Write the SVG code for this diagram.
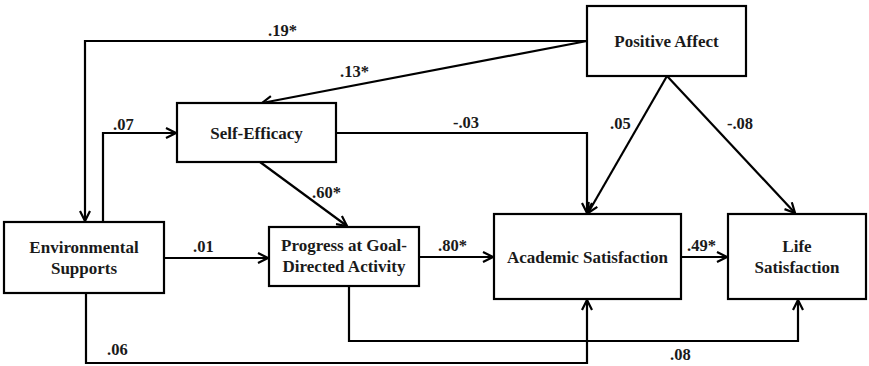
<svg xmlns="http://www.w3.org/2000/svg" width="869" height="366" viewBox="0 0 869 366">
  <defs>
    <marker id="arrow" viewBox="0 0 12 12" refX="11" refY="6" markerWidth="12" markerHeight="12" markerUnits="userSpaceOnUse" orient="auto">
      <path d="M1,1 L11,6 L1,11" fill="none" stroke="#000" stroke-width="2.2" stroke-linejoin="miter"/>
    </marker>
  </defs>
  <style>
    .box { fill: #fff; stroke: #000; stroke-width: 2.2; }
    .node-text { font-family: "Liberation Serif", "Times New Roman", serif; font-weight: bold; font-size: 17px; fill: #1a1a1a; text-anchor: middle; }
    .edge { fill: none; stroke: #000; stroke-width: 2.2; }
    .lbl { font-family: "Liberation Serif", "Times New Roman", serif; font-weight: bold; font-size: 16.5px; fill: #1a1a1a; }
  </style>
  <rect width="869" height="366" fill="#fff"/>

  <g id="connectors">
    <!-- Positive Affect -> Environmental Supports -->
    <path class="edge" d="M587,41 H85 V221" marker-end="url(#arrow)"/>
    <!-- Positive Affect -> Self-Efficacy -->
    <path class="edge" d="M587,41 L262,103" marker-end="url(#arrow)"/>
    <!-- Environmental Supports -> Self-Efficacy -->
    <path class="edge" d="M103,222 V133 H176" marker-end="url(#arrow)"/>
    <!-- Self-Efficacy -> Academic Satisfaction -->
    <path class="edge" d="M336,133 H587 V213" marker-end="url(#arrow)"/>
    <!-- Self-Efficacy -> Progress -->
    <path class="edge" d="M260,162 L347,226" marker-end="url(#arrow)"/>
    <!-- Positive Affect -> Academic Satisfaction -->
    <path class="edge" d="M667,76 L588,213" marker-end="url(#arrow)"/>
    <!-- Positive Affect -> Life Satisfaction -->
    <path class="edge" d="M667,76 L795,213" marker-end="url(#arrow)"/>
    <!-- Environmental Supports -> Progress -->
    <path class="edge" d="M164,258 H268" marker-end="url(#arrow)"/>
    <!-- Progress -> Academic Satisfaction -->
    <path class="edge" d="M419,257 H493" marker-end="url(#arrow)"/>
    <!-- Academic Satisfaction -> Life Satisfaction -->
    <path class="edge" d="M681,257 H727" marker-end="url(#arrow)"/>
    <!-- Environmental Supports -> Academic Satisfaction -->
    <path class="edge" d="M86,293 V363 H587 V300" marker-end="url(#arrow)"/>
    <!-- Progress -> Life Satisfaction -->
    <path class="edge" d="M349,286 V341 H798 V300" marker-end="url(#arrow)"/>

    <text class="lbl" x="268" y="36">.19*</text>
    <text class="lbl" x="340" y="77">.13*</text>
    <text class="lbl" x="113" y="130">.07</text>
    <text class="lbl" x="453" y="128">-.03</text>
    <text class="lbl" x="312" y="198">.60*</text>
    <text class="lbl" x="610" y="129">.05</text>
    <text class="lbl" x="727" y="129">-.08</text>
    <text class="lbl" x="193" y="252">.01</text>
    <text class="lbl" x="438" y="251">.80*</text>
    <text class="lbl" x="687" y="251">.49*</text>
    <text class="lbl" x="107" y="355">.06</text>
    <text class="lbl" x="670" y="360">.08</text>
  </g>

  <g id="positive-affect">
    <rect class="box" x="587" y="6" width="159" height="70"/>
    <text class="node-text" x="666.5" y="47">Positive Affect</text>
  </g>

  <g id="self-efficacy">
    <rect class="box" x="177" y="103" width="159" height="59"/>
    <text class="node-text" x="256.5" y="139">Self-Efficacy</text>
  </g>

  <g id="environmental-supports">
    <rect class="box" x="4" y="222" width="160" height="71"/>
    <text class="node-text" x="84" y="253">Environmental</text>
    <text class="node-text" x="84" y="274">Supports</text>
  </g>

  <g id="progress">
    <rect class="box" x="269" y="227" width="150" height="59"/>
    <text class="node-text" x="344" y="251">Progress at Goal-</text>
    <text class="node-text" x="344" y="272">Directed Activity</text>
  </g>

  <g id="academic-satisfaction">
    <rect class="box" x="494" y="214" width="187" height="85"/>
    <text class="node-text" x="587.5" y="263">Academic Satisfaction</text>
  </g>

  <g id="life-satisfaction">
    <rect class="box" x="728" y="214" width="138" height="85"/>
    <text class="node-text" x="797" y="252">Life</text>
    <text class="node-text" x="797" y="273">Satisfaction</text>
  </g>
</svg>
